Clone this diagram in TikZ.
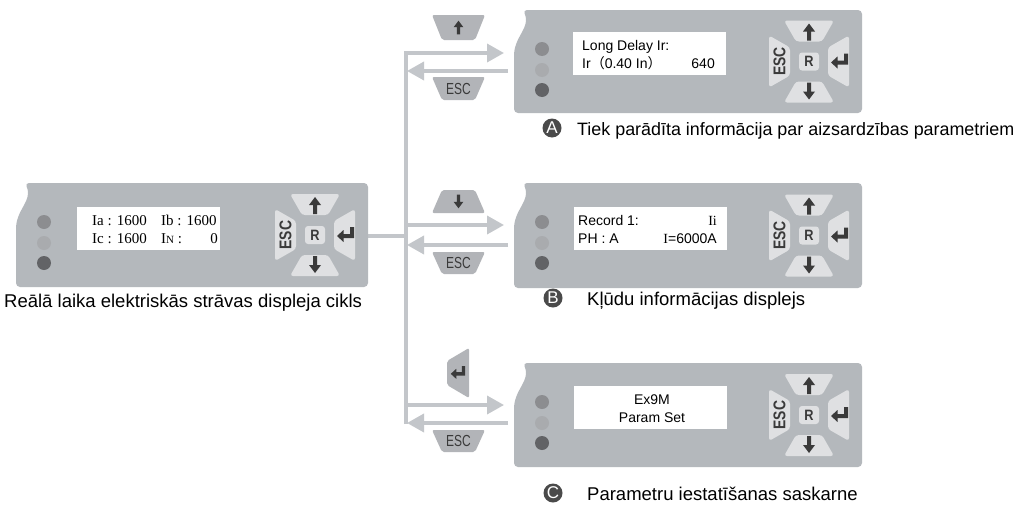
\documentclass[tikz,border=0pt]{standalone}
\usepackage{fontspec}
\setmainfont{Liberation Sans}
\newfontfamily\serifscr{Liberation Serif}
\newfontfamily\cjkfont{Noto Sans CJK SC}
\usetikzlibrary{arrows.meta}
\definecolor{panelgray}{HTML}{B4B8BC}
\definecolor{keygray}{HTML}{DFE0E2}
\definecolor{ledone}{HTML}{8C8D90}
\definecolor{ledtwo}{HTML}{A9ABAE}
\definecolor{ledthree}{HTML}{626366}
\definecolor{icondark}{HTML}{3A3A3A}
\definecolor{linegray}{HTML}{C3C6CA}
\definecolor{btngray}{HTML}{B2B4B8}
\definecolor{badgegray}{HTML}{4A4A4A}

\tikzset{
  conn/.style={draw=linegray, line width=3.5pt, -{Triangle[length=17pt,width=18pt]}},
  plainconn/.style={draw=linegray, line width=3.5pt},
  keyshape/.style={fill=keygray, rounded corners=3pt},
  btnshape/.style={fill=btngray, rounded corners=2pt},
  icon/.style={fill=icondark},
  scrsans/.style={inner sep=0pt, anchor=base west, font=\fontsize{14}{16}\selectfont},
  scrserif/.style={inner sep=0pt, anchor=base west, font=\serifscr\fontsize{15}{17}\selectfont},
  lbl/.style={inner sep=0pt, anchor=base west, font=\fontsize{18.5}{20}\selectfont},
  badge/.style={circle, fill=badgegray, text=white, inner sep=0pt, minimum size=19pt, font=\fontsize{17}{17}\selectfont},
  esctext/.style={inner sep=0pt, text=icondark, font=\fontsize{16}{16}\selectfont},
}

% up arrow icon centred at origin
\newcommand\uparrowicon{%
  \fill[icon] (0,-8.5) -- (6,-0.5) -- (2,-0.5) -- (2,8.5) -- (-2,8.5) -- (-2,-0.5) -- (-6,-0.5) -- cycle;}
% enter icon centred at origin
\newcommand\entericon{%
  \fill[icon] (-8.5,1) -- (-2,-5) -- (-2,-1) -- (4.5,-1) -- (4.5,-8) -- (8.5,-8) -- (8.5,3) -- (-2,3) -- (-2,7) -- cycle;}

% keypad: #1 cx, #2 cy, #3 name prefix
\newcommand\keypad[3]{%
  \fill[keyshape] (#1-25,#2-41) -- (#1+25,#2-41) -- (#1+13,#2-20) -- (#1-13,#2-20) -- cycle;
  \fill[keyshape] (#1-25,#2+41) -- (#1+25,#2+41) -- (#1+13,#2+20) -- (#1-13,#2+20) -- cycle;
  \fill[keyshape] (#1-40,#2-26) -- (#1-19,#2-14) -- (#1-19,#2+14) -- (#1-40,#2+26) -- cycle;
  \fill[keyshape] (#1+40,#2-26) -- (#1+19,#2-14) -- (#1+19,#2+14) -- (#1+40,#2+26) -- cycle;
  \fill[keyshape] (#1-10,#2-9) rectangle (#1+10,#2+9);
  \begin{scope}[shift={(#1,#2-29.5)}]\uparrowicon\end{scope}
  \begin{scope}[shift={(#1,#2+29.5)}, rotate=180]\uparrowicon\end{scope}
  \begin{scope}[shift={(#1+30.5,#2)}]\entericon\end{scope}
  \node[inner sep=0pt, rotate=90, text=icondark, font=\bfseries\fontsize{17}{17}\selectfont] (#3-esc) at (#1-29.5,#2) {\scalebox{0.82}[1]{ESC}};
  \node[inner sep=0pt, text=icondark, font=\bfseries\fontsize{15}{15}\selectfont] (#3-r) at (#1,#2) {\scalebox{0.85}[1]{R}};
}

% panel: #1 top-left x, #2 top, #3 right, #4 bottom, #5 name prefix
\newcommand\devpanel[5]{%
  \fill[panelgray, rounded corners=4pt] (#1,#2) .. controls (#1+8,#2+18) and (#1-9,#2+26) .. (#1-9,#2+50) -- (#1-9,#4) -- (#3,#4) -- (#3,#2) -- cycle;
  \fill[ledone] (#1+19,#2+39) circle (7);
  \fill[ledtwo] (#1+19,#2+60) circle (7);
  \fill[ledthree] (#1+19,#2+80) circle (7);
  \pgfmathsetmacro\kpx{#3-53}%
  \pgfmathsetmacro\kpy{0.5*#2+0.5*#4}%
  \keypad{\kpx}{\kpy}{#5}
}

\begin{document}
\begin{tikzpicture}[x=1pt, y=-1pt]
\useasboundingbox[fill=white] (0,0) rectangle (1020,506);

% ---------- connectors ----------
\coordinate (lpout) at (366,236);
\coordinate (hub) at (406,236);
\coordinate (vtop) at (406,53);
\coordinate (vbot) at (406,424);
\coordinate (aIn) at (504,53);
\coordinate (aOut) at (508,71);
\coordinate (aBack) at (407,71);
\coordinate (bStart) at (406,225);
\coordinate (bIn) at (504,225);
\coordinate (bOut) at (508,245);
\coordinate (bBack) at (407,245);
\coordinate (cStart) at (406,405);
\coordinate (cIn) at (504,405);
\coordinate (cOut) at (508,423);
\coordinate (cBack) at (407,423);

\draw[plainconn] (lpout) -- (hub);
\draw[conn, line join=miter] (vbot) -- (vtop) -- (aIn);
\draw[conn] (aOut) -- (aBack);
\draw[conn] (bStart) -- (bIn);
\draw[conn] (bOut) -- (bBack);
\draw[conn] (cStart) -- (cIn);
\draw[conn] (cOut) -- (cBack);

% ---------- buttons on the connectors ----------
\fill[btnshape] (432,15) -- (485,15) -- (475,40) -- (442,40) -- cycle;
\begin{scope}[shift={(458.5,27.5)}, scale=0.8]\uparrowicon\end{scope}
\fill[btnshape] (432,77) -- (485,77) -- (475,100) -- (442,100) -- cycle;
\node[esctext] (escA) at (458.5,88.5) {\scalebox{0.75}[1]{ESC}};

\fill[btnshape] (442,190) -- (475,190) -- (485,213) -- (432,213) -- cycle;
\begin{scope}[shift={(458.5,201.5)}, scale=0.8, rotate=180]\uparrowicon\end{scope}
\fill[btnshape] (432,252) -- (485,252) -- (475,274) -- (442,274) -- cycle;
\node[esctext] (escB) at (458.5,263) {\scalebox{0.75}[1]{ESC}};

\fill[btnshape] (447,361) -- (469,348) -- (469,398) -- (447,385) -- cycle;
\begin{scope}[shift={(458,373)}, scale=0.85]\entericon\end{scope}
\fill[btnshape] (432,430) -- (485,430) -- (475,452) -- (442,452) -- cycle;
\node[esctext] (escC) at (458.5,441) {\scalebox{0.75}[1]{ESC}};

% ---------- panels ----------
\devpanel{25}{183}{368}{287}{P0}
\devpanel{523}{10}{862}{113}{PA}
\devpanel{523}{183}{862}{288}{PB}
\devpanel{523}{363}{862}{467}{PC}

% screens
\fill[white] (77,207) rectangle (220,250);
\fill[white] (573,32) rectangle (726,75);
\fill[white] (574,207) rectangle (727,250);
\fill[white] (574,386) rectangle (727,429);

% left screen text
\node[scrserif] (ia) at (92,225) {Ia : 1600};
\node[scrserif] (ib) at (161,225) {Ib : 1600};
\node[scrserif] (ic) at (92,243) {Ic : 1600};
\node[scrserif] (inn) at (161,243) {I{\fontsize{11}{12}\selectfont N} :};
\node[scrserif, anchor=base east] (inval) at (218,243) {0};

% screen A
\node[scrsans] (sa1) at (582,50) {Long Delay Ir:};
\node[scrsans] (sa2) at (582,68) {Ir{\cjkfont （}0.40 In{\cjkfont ）}};
\node[scrsans, anchor=base east] (sa3) at (715,68) {640};

% screen B
\node[scrsans] (sb1) at (578,225) {Record 1:};
\node[scrserif, anchor=base east, font=\serifscr\fontsize{14}{16}\selectfont] (sb2) at (717,225) {Ii};
\node[scrsans] (sb3) at (578,243) {PH : A};
\node[scrsans, anchor=base east] (sb4) at (717,243) {{\serifscr I}=6000A};

% screen C
\node[scrsans, anchor=base] (sc1) at (652,404) {Ex9M};
\node[scrsans, anchor=base] (sc2) at (652,422) {Param Set};

% ---------- labels ----------
\node[lbl] (l0) at (4,307) {Reālā laika elektriskās strāvas displeja cikls};
\node[badge] (bA) at (552,128) {A};
\node[lbl, font=\fontsize{17.9}{20}\selectfont] (lA) at (577,135) {Tiek parādīta informācija par aizsardzības parametriem};
\node[badge] (bB) at (553,298) {B};
\node[lbl] (lB) at (587,305) {Kļūdu informācijas displejs};
\node[badge] (bC) at (553,493) {C};
\node[lbl] (lC) at (587,500) {Parametru iestatīšanas saskarne};
\end{tikzpicture}
\end{document}
